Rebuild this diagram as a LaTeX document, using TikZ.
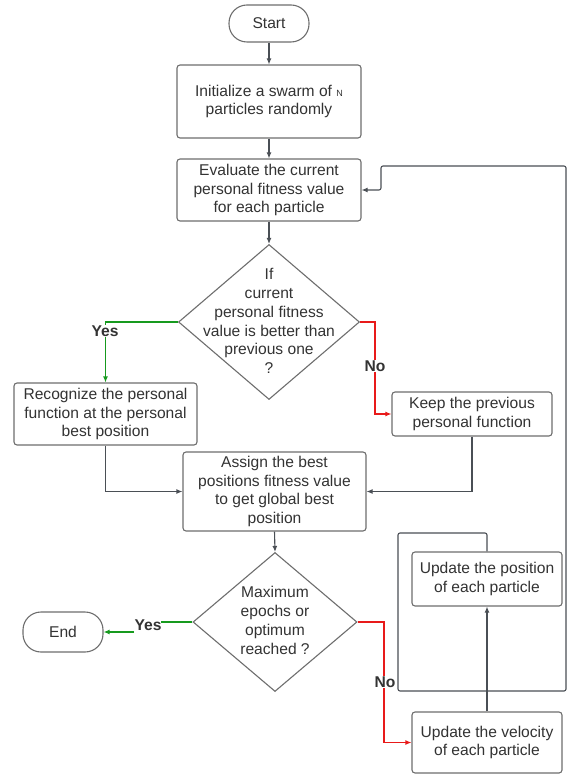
\documentclass[tikz,border=0pt]{standalone}
\usepackage{fontspec}
\setmainfont{Liberation Sans}
\usetikzlibrary{arrows.meta,shapes.geometric}
\definecolor{boxc}{HTML}{6E6E6E}
\definecolor{txtc}{HTML}{333333}
\definecolor{linec}{HTML}{4A4F55}
\definecolor{yesc}{HTML}{169A1E}
\definecolor{noc}{HTML}{E81A1A}
\begin{document}
\begin{tikzpicture}[x=1pt,y=-1pt,
  font=\fontsize{15.6}{18.8}\selectfont, text=txtc,
  box/.style={draw=boxc, line width=1.1pt, rounded corners=3pt, align=center, inner sep=0pt},
  term/.style={draw=boxc, line width=1.1pt, rounded corners=18pt, inner sep=0pt},
  dia/.style={draw=boxc, line width=1.1pt, diamond, inner sep=0pt},
  conn/.style={draw=linec, line width=1.1pt, -{Latex[length=6pt,width=5pt]}},
  yesline/.style={draw=yesc, line width=1.4pt},
  noline/.style={draw=noc, line width=1.4pt},
  lab/.style={font=\bfseries\fontsize{15.6}{18}\selectfont, fill=white, inner sep=1pt, text=txtc},
  tip/.style={-{Latex[length=6pt,width=5pt]}}
]
\useasboundingbox[fill=white] (0,0) rectangle (568,775);

% nodes
\node[term, minimum width=80, minimum height=37] (start) at (269,23.5) {Start};
\node[box, minimum width=184, minimum height=73] (init) at (269,101.5)
  {Initialize a swarm of {\fontsize{9}{9}\selectfont N}\\particles randomly};
\node[box, minimum width=184, minimum height=62] (eval) at (269,190)
  {Evaluate the current\\personal fitness value\\for each particle};
\node[dia, minimum width=181, minimum height=155] (d1) at (269,322) {};
\node[align=center] (d1t) at (269,321)
  {If\\current\\personal fitness\\value is better than\\previous one\\?};
\node[box, minimum width=183, minimum height=62] (rec) at (105.5,414)
  {Recognize the personal\\function at the personal\\best position};
\node[box, minimum width=160, minimum height=44] (keep) at (472,414)
  {Keep the previous\\personal function};
\node[box, minimum width=183, minimum height=79] (assign) at (274.5,491.5)
  {Assign the best\\positions fitness value\\to get global best\\position};
\node[dia, minimum width=164, minimum height=139] (d2) at (275,622) {};
\node[align=center] (d2t) at (275,620.5)
  {Maximum\\epochs or\\optimum\\reached ?};
\node[term, minimum width=80, minimum height=40] (fin) at (63,632) {End};
\node[box, minimum width=150, minimum height=54] (pos) at (487,579)
  {Update the position\\of each particle};
\node[box, minimum width=150, minimum height=61] (vel) at (487,742.5)
  {Update the velocity\\of each particle};

% straight connectors
\draw[conn] (start) -- (init);
\draw[conn] (init) -- (eval);
\draw[conn] (eval) -- (d1);
\draw[conn] (rec.south) |- (assign.west);
\draw[conn] (keep.south) |- (assign.east);
\draw[conn] (assign.south) -- (d2.north);
\draw[conn] (vel.north) -- (pos.south);

% yes / no of first decision
\draw[yesline, tip] (d1.west) -| (rec.north);
\node[lab] (yes1) at (105,331) {Yes};
\coordinate (n1) at (375,322);
\draw[noline, tip] (d1.east) -- (n1) |- (keep.west);
\node[lab] (no1) at (375,366) {No};

% yes / no of second decision
\coordinate (y2a) at (161,622);
\coordinate (y2b) at (134,632);
\draw[yesline] (d2.west) -- (y2a);
\draw[yesline, tip] (y2b) -- (fin.east);
\node[lab, fill=none] (yes2) at (148,625) {Yes};
\coordinate (n2) at (384,622);
\draw[noline, tip] (d2.east) -- (n2) |- (vel.west);
\node[lab, inner sep=0.5pt] (no2) at (385,682) {No};

% loop back
\coordinate (l1) at (487,533);
\coordinate (l2) at (398,533);
\coordinate (l3) at (398,691);
\coordinate (l4) at (566,691);
\coordinate (l5) at (566,166);
\coordinate (l6) at (381,166);
\coordinate (l7) at (381,190);
\draw[conn, rounded corners=2pt] (pos.north) -- (l1) -- (l2) -- (l3) -- (l4) -- (l5) -- (l6) -- (l7) -- (eval.east);
\end{tikzpicture}
\end{document}
